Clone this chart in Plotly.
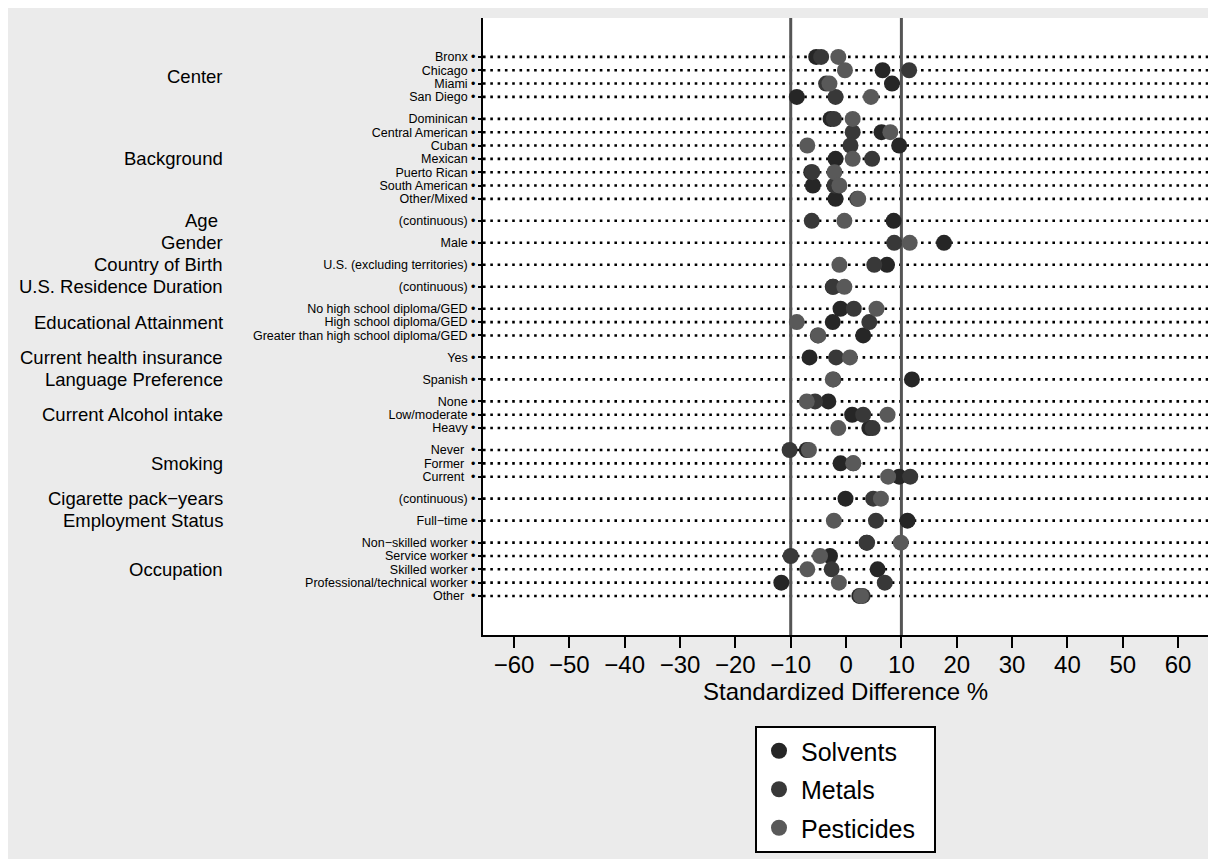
import plotly.graph_objects as go

# ---------------- data ----------------
groups = ["Center", "Background", "Age ", "Gender", "Country of Birth",
          "U.S. Residence Duration", "Educational Attainment",
          "Current health insurance", "Language Preference",
          "Current Alcohol intake", "Smoking", "Cigarette pack\u2212years",
          "Employment Status", "Occupation"]
group_sizes = [4, 7, 1, 1, 1, 1, 3, 1, 1, 3, 3, 1, 1, 5]

categories = ["Bronx", "Chicago", "Miami", "San Diego",
              "Dominican", "Central American", "Cuban", "Mexican",
              "Puerto Rican", "South American", "Other/Mixed",
              "(continuous)", "Male", "U.S. (excluding territories)", "(continuous)",
              "No high school diploma/GED", "High school diploma/GED",
              "Greater than high school diploma/GED",
              "Yes", "Spanish",
              "None", "Low/moderate", "Heavy",
              "Never ", "Former ", "Current ",
              "(continuous)", "Full\u2212time",
              "Non\u2212skilled worker", "Service worker", "Skilled worker",
              "Professional/technical worker", "Other "]

solvents = [-5.4, 6.6, 8.3, -8.9,
            -2.8, 6.4, 9.6, -1.9, -6.3, -6.0, -1.9,
            8.6, 17.7, 7.4, -2.4,
            -1.0, -2.4, 3.1,
            -6.6, 11.9,
            -3.2, 1.1, 4.2,
            -7.1, -1.0, 9.6,
            -0.1, 11.1,
            3.7, -2.9, 5.7, -11.7, 2.4]
metals = [-4.5, 11.4, -3.6, -1.9,
          -2.2, 1.2, 0.8, 4.7, -6.1, -2.1, 2.0,
          -6.2, 8.7, 5.1, -2.3,
          1.4, 4.2, -5.1,
          -1.8, -2.3,
          -5.6, 3.1, 4.8,
          -10.2, 1.3, 11.6,
          4.9, 5.4,
          3.8, -10.0, -2.6, 7.0, 3.0]
pesticides = [-1.4, -0.2, -3.0, 4.5,
              1.2, 8.0, -7.0, 1.2, -2.1, -1.2, 2.2,
              -0.3, 11.5, -1.2, -0.3,
              5.5, -8.9, -5.0,
              0.7, -2.4,
              -7.1, 7.5, -1.4,
              -6.7, 1.3, 7.6,
              6.3, -2.2,
              9.9, -4.7, -7.0, -1.3, 2.7]

series_names = ["Solvents", "Metals", "Pesticides"]
series_colors = ["#262626", "#383838", "#595959"]
x_ticks = [-60, -50, -40, -30, -20, -10, 0, 10, 20, 30, 40, 50, 60]
ref_lines = [-10, 10]

# ---------------- layout of rows ----------------
GROUP_GAP = 1.65
row_pos = []
group_pos = []
pos = 0.0
for gi, n in enumerate(group_sizes):
    if gi > 0:
        pos += GROUP_GAP - 1
    members = []
    for k in range(n):
        row_pos.append(pos)
        members.append(pos)
        pos += 1
    group_pos.append(sum(members) / len(members))

FONT = "Liberation Sans, Arial, Helvetica, sans-serif"

fig = go.Figure()

for name, vals, col in zip(series_names, [solvents, metals, pesticides], series_colors):
    fig.add_trace(go.Scatter(
        x=vals, y=row_pos, mode="markers", name=name + "\u00a0\u00a0", legendgroup=name,
        marker=dict(size=16, color=col, line=dict(width=0)),
        cliponaxis=False,
    ))

shapes = []
# dotted guide lines per row
for y in row_pos:
    shapes.append(dict(type="line", xref="paper", x0=0, x1=1, yref="y", y0=y, y1=y,
                       line=dict(color="black", width=2.6, dash="2.6px,4.7px"),
                       layer="below"))
# reference lines
for xv in ref_lines:
    shapes.append(dict(type="line", xref="x", x0=xv, x1=xv, yref="paper", y0=0, y1=1,
                       line=dict(color="#555555", width=3), layer="below"))

annotations = []
for g, gp in zip(groups, group_pos):
    annotations.append(dict(text=g, xref="paper", x=-258/725, xanchor="right",
                            yref="y", y=gp, yanchor="middle", showarrow=False,
                            font=dict(size=18.5, color="black", family=FONT)))

fig.update_layout(
    width=1204, height=851,
    margin=dict(l=475, r=4, t=10, b=224, autoexpand=False),
    paper_bgcolor="#ebebeb", plot_bgcolor="white",
    font=dict(family=FONT, color="black"),
    shapes=shapes, annotations=annotations,
    showlegend=True,
    legend=dict(x=0.5, xanchor="center", y=-91/617, yanchor="top",
                bgcolor="white", bordercolor="black", borderwidth=2,
                font=dict(size=25, color="black", family=FONT),
                tracegroupgap=3, traceorder="grouped", itemsizing="trace",
                itemwidth=34),
    xaxis=dict(range=[-65.6, 65.4], tickvals=x_ticks, showgrid=False, zeroline=False,
               showline=True, linecolor="black", linewidth=2,
               ticks="outside", ticklen=11, tickwidth=2, tickcolor="black",
               ticklabelstandoff=-4,
               tickfont=dict(size=24, color="black", family=FONT),
               title=dict(text="Standardized Difference %", standoff=6,
                          font=dict(size=24, color="black", family=FONT))),
    yaxis=dict(range=[row_pos[-1] + 2.93, -2.92], tickvals=row_pos,
               ticktext=[c + " \u2022" for c in categories],
               showgrid=False, zeroline=False,
               showline=True, linecolor="black", linewidth=2,
               ticks="outside", ticklen=3, tickwidth=2, tickcolor="black",
               tickfont=dict(size=12.5, color="black", family=FONT)),
)

fig.write_html("out.html")
